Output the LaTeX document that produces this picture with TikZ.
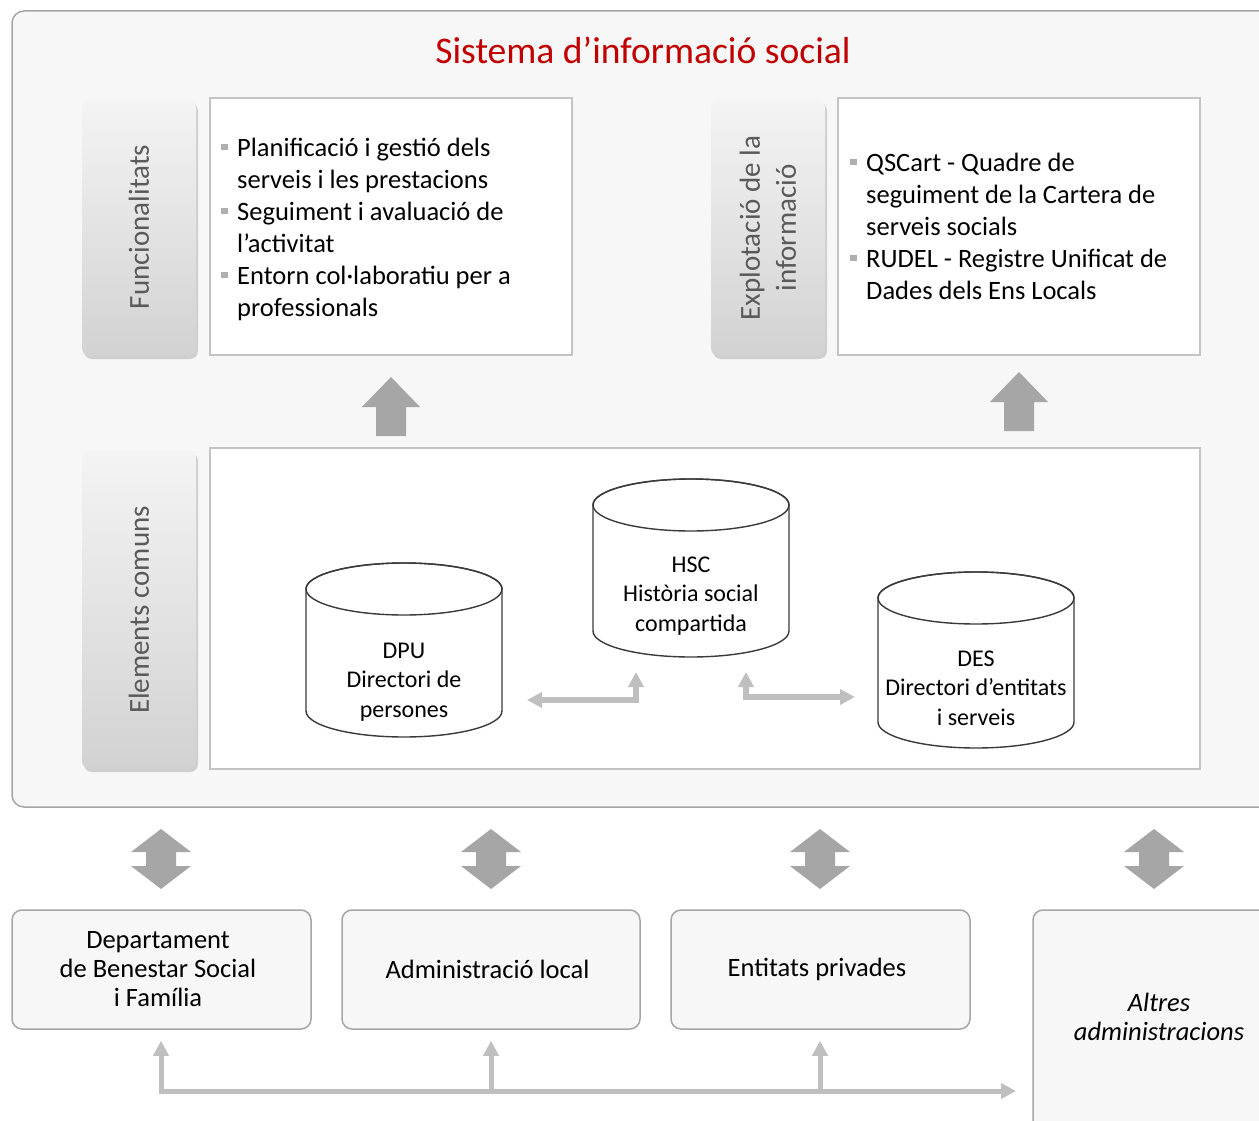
\documentclass[tikz,border=0pt]{standalone}
\usepackage{fontspec}
\setmainfont{Carlito}
\usetikzlibrary{arrows.meta}
\definecolor{bg}{HTML}{F7F7F7}
\definecolor{frame}{HTML}{A6A6A6}
\definecolor{boxline}{HTML}{C4C4C4}
\definecolor{arrowgray}{HTML}{A6A6A6}
\definecolor{conngray}{HTML}{BFBFBF}
\definecolor{titlered}{HTML}{C00000}
\definecolor{tabtext}{HTML}{595959}
\definecolor{tabtop}{HTML}{F4F4F4}
\definecolor{tabbot}{HTML}{D2D2D2}
\definecolor{cylline}{HTML}{3A3A3A}
\definecolor{bulgray}{HTML}{AFAFAF}
\newcommand\bul{\makebox[16pt][l]{\textcolor{bulgray}{\rule[6pt]{6.5pt}{6.5pt}}}}
\newcommand\ind{\hspace*{16pt}}
\begin{document}
\begin{tikzpicture}[x=1pt,y=1pt,
  tab/.style={rounded corners=8pt, top color=tabtop, bottom color=tabbot},
  tabshadow/.style={rounded corners=8pt, fill=black, opacity=0.16},
  tablabel/.style={rotate=90, text=tabtext, font=\fontsize{29}{36}\selectfont, align=center, inner sep=0pt},
  wbox/.style={draw=boxline, line width=1.5pt, fill=white},
  listtext/.style={font=\fontsize{26.5}{32}\selectfont, align=left, inner sep=0pt, text=black},
  cyl/.style={draw=cylline, line width=1.4pt, fill=white},
  cyltext/.style={font=\fontsize{24}{29.5}\selectfont, align=center, inner sep=0pt},
  bigarrow/.style={fill=arrowgray, draw=none},
  conn/.style={draw=conngray, line width=5.5pt},
  tipA/.tip={Triangle[length=15pt,width=15pt]},
  ent/.style={draw=frame, line width=1.5pt, fill=bg, rounded corners=10pt},
  enttext/.style={font=\fontsize{26.5}{29}\selectfont, align=center, inner sep=0pt},
]
\useasboundingbox (0,0) rectangle (1259,-1121);
\clip (0,0) rectangle (1259,-1121);
\fill[white] (0,0) rectangle (1259,-1121);

% outer frame
\path[draw=frame, line width=1.5pt, fill=bg, rounded corners=12pt] (12,-11) rectangle (1290,-807);
\node[font=\fontsize{37.6}{40}\selectfont, text=titlered, anchor=base, inner sep=0pt] (title) at (643,-64) {Sistema d’informació social};

% tabs
\fill[tabshadow] (84,-103) rectangle (198,-359);
\path[tab] (82,-100) rectangle (196,-356);
\node[tablabel] (tF) at (139,-227) {Funcionalitats};

\fill[tabshadow] (713,-103) rectangle (827,-359);
\path[tab] (711,-100) rectangle (825,-356);
\node[tablabel] (tE) at (768,-228) {Explotació de la\\informació};

\fill[tabshadow] (84,-453) rectangle (198,-772);
\path[tab] (82,-450) rectangle (196,-769);
\node[tablabel] (tC) at (139,-610) {Elements comuns};

% white boxes
\path[wbox] (210,-98) rectangle (572,-355);
\path[wbox] (838,-98) rectangle (1200,-355);
\path[wbox] (210,-448) rectangle (1200,-769);

\node[listtext, anchor=base west] (listF) at (221,-316) {\bul Planificació i gestió dels\\\ind serveis i les prestacions\\\bul Seguiment i avaluació de\\\ind l’activitat\\\bul Entorn col·laboratiu per a\\\ind professionals};
\node[listtext, anchor=base west] (listE) at (850,-299) {\bul QSCart - Quadre de\\\ind seguiment de la Cartera de\\\ind serveis socials\\\bul RUDEL - Registre Unificat de\\\ind Dades dels Ens Locals};

% up arrows
\path[bigarrow] (376,-436) -- (376,-407) -- (362,-407) -- (391,-377) -- (420,-407) -- (406,-407) -- (406,-436) -- cycle;
\path[bigarrow] (1004,-431) -- (1004,-402) -- (990,-402) -- (1019,-372) -- (1048,-402) -- (1034,-402) -- (1034,-431) -- cycle;

% cylinders
\newcommand\dbcyl[3]{%
  \path[cyl] (#1-98,-#2) -- (#1-98,-#3) arc[start angle=180,end angle=360,x radius=98pt,y radius=26pt] -- (#1+98,-#2) arc[start angle=0,end angle=180,x radius=98pt,y radius=26pt] -- cycle;
  \draw[cyl, fill=none] (#1,-#2) ellipse[x radius=98pt,y radius=26pt];}
\dbcyl{404}{589}{711}
\dbcyl{691}{505}{631}
\dbcyl{976}{598}{722}
\node[cyltext, anchor=base] (dpu) at (404,-717) {DPU\\Directori de\\persones};
\node[cyltext, anchor=base] (hsc) at (691,-631) {HSC\\Història social\\compartida};
\node[cyltext, anchor=base] (des) at (976,-725) {DES\\Directori d’entitats\\i serveis};

\coordinate (a1) at (527,-700);
\coordinate (a2) at (636,-672);
\coordinate (b1) at (746,-672);
\coordinate (b2) at (855,-697);
\draw[conn, tipA-tipA] (a1) -| (a2);
\draw[conn, tipA-tipA] (b1) |- (b2);

% double arrows
\foreach \cx/\nm in {161/da1,491/da2,820/da3,1154/da4}{
  \path[bigarrow] (\cx,-829) -- (\cx+30,-852) -- (\cx+15,-852) -- (\cx+15,-866) -- (\cx+30,-866) -- (\cx,-889) -- (\cx-30,-866) -- (\cx-15,-866) -- (\cx-15,-852) -- (\cx-30,-852) -- cycle;
}

% entity boxes
\node[ent, minimum width=299pt, minimum height=119pt] (dept) at (161.5,-969.5) {};
\node[ent, minimum width=298pt, minimum height=119pt] (adm) at (491,-969.5) {};
\node[ent, minimum width=299pt, minimum height=119pt] (priv) at (820.5,-969.5) {};
\node[enttext] (deptT) at ([xshift=-3.5pt]dept.center) {Departament\\de Benestar Social\\i Família};
\node[enttext] (admT) at ([xshift=-3.5pt]adm.center) {Administració local};
\node[enttext] (privT) at ([xshift=-3.5pt]priv.center) {Entitats privades};
\path[ent] (1033,-910) rectangle (1300,-1150);
\node[enttext, anchor=base, font=\fontsize{26.5}{29}\selectfont\itshape] (altres) at (1159,-1040) {Altres\\administracions};

% bottom connectors
\coordinate (jD) at (161,-1091);
\coordinate (jA) at (491,-1091);
\coordinate (jP) at (820,-1091);
\coordinate (endR) at (1016,-1091);
\draw[conn, line width=5pt, tipA-tipA] ([yshift=-11pt]dept.south -| jD) |- (endR);
\draw[conn, line width=5pt, -tipA] (jA) -- ([yshift=-11pt]adm.south -| jA);
\draw[conn, line width=5pt, -tipA] (jP) -- ([yshift=-11pt]priv.south -| jP);
\end{tikzpicture}
\end{document}
